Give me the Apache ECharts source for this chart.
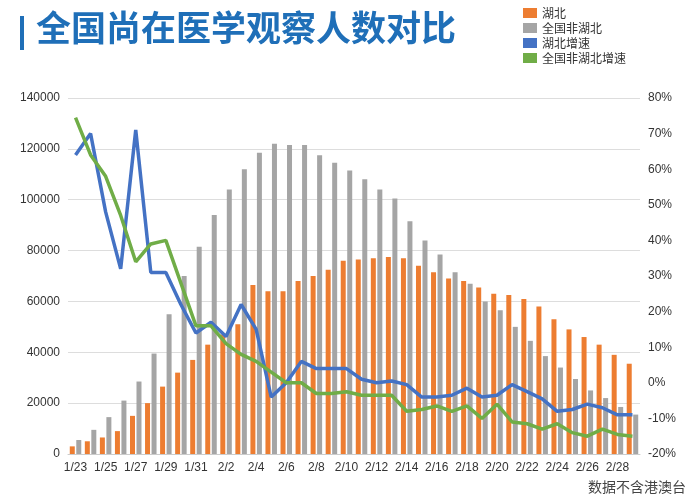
<!DOCTYPE html><html><head><meta charset="utf-8"><script src="https://cdn.jsdelivr.net/npm/echarts@6/dist/echarts.min.js"></script><style>body{margin:0}#c{width:700px;height:500px}</style></head><body><div id="c"></div><script>
const categories=["1/23","1/24","1/25","1/26","1/27","1/28","1/29","1/30","1/31","2/1","2/2","2/3","2/4","2/5","2/6","2/7","2/8","2/9","2/10","2/11","2/12","2/13","2/14","2/15","2/16","2/17","2/18","2/19","2/20","2/21","2/22","2/23","2/24","2/25","2/26","2/27","2/28","2/29"];
const hubei=[3000,5000,6500,9000,15000,20000,26500,32000,37000,43000,47000,51000,66500,64000,64000,68000,70000,72500,76000,76500,77000,77500,77000,74000,71500,69000,68000,65500,63000,62500,61000,58000,53000,49000,46000,43000,39000,35500];
const nonHubei=[5500,9500,14500,21000,28500,39500,55000,70000,81500,94000,104000,112000,118500,122000,121500,121500,117500,114500,111500,108000,104000,100500,91500,84000,78500,71500,67000,60000,56500,50000,44500,38500,34000,29500,25000,22000,18500,15500];
const hubeiGrowth=[64,70,48,32,71,31,31,22,14,17,13,22,15,-4,0,6,4,4,4,1,0,0.5,-0.5,-4,-4,-3.5,-1.5,-4,-3.5,-0.5,-2.5,-4.5,-8,-7.5,-6,-7,-9,-9];
const nonHubeiGrowth=[74.5,64,58,47,34,39,40,28,16,16,11,8,6,3,0,0,-3,-3,-2.5,-3.5,-3.5,-3.5,-8,-7.5,-6.5,-8,-6.5,-10,-6,-11,-11.5,-13,-11.5,-14,-15,-13,-14.5,-15];
const ch=echarts.init(document.getElementById('c'));
const lbl={color:'#333',fontSize:12,fontFamily:'Liberation Sans'};
ch.setOption({
animation:false,
graphic:[{type:'rect',left:20,top:16,shape:{width:4,height:34},style:{fill:'#1f6fb8'}},
{type:'text',left:36,top:10,style:{text:'全国尚在医学观察人数对比',font:'bold 35px "Noto Sans CJK SC"',fill:'#1f6fb8'}},
{type:'text',right:14,bottom:6,style:{text:'数据不含港澳台',font:'14px "Noto Sans CJK SC"',fill:'#444'}}],
legend:{orient:'vertical',left:518,top:2,itemGap:3,itemWidth:14,itemHeight:10,textStyle:{fontSize:12,color:'#333',fontFamily:'Noto Sans CJK SC'},
data:[{name:'湖北',icon:'rect'},{name:'全国非湖北',icon:'rect'},{name:'湖北增速',icon:'rect'},{name:'全国非湖北增速',icon:'rect'}]},
grid:{left:68,right:60,top:98,bottom:46},
xAxis:{type:'category',data:categories,axisLabel:Object.assign({interval:1},lbl),axisTick:{interval:1},axisLine:{lineStyle:{color:'#ccc'}}},
yAxis:[{type:'value',min:0,max:140000,interval:20000,axisLabel:Object.assign({formatter:v=>String(v)},lbl),splitLine:{lineStyle:{color:'#ddd'}}},
{type:'value',min:-20,max:80,interval:10,axisLabel:Object.assign({formatter:'{value}%'},lbl),splitLine:{show:false}}],
series:[
{name:'湖北',type:'bar',data:hubei,itemStyle:{color:'#ed7d31'},barWidth:5,barGap:'30%'},
{name:'全国非湖北',type:'bar',data:nonHubei,itemStyle:{color:'#a5a5a5'},barWidth:5},
{name:'湖北增速',type:'line',yAxisIndex:1,data:hubeiGrowth,symbol:'none',lineStyle:{color:'#4472c4',width:3.5},itemStyle:{color:'#4472c4'}},
{name:'全国非湖北增速',type:'line',yAxisIndex:1,data:nonHubeiGrowth,symbol:'none',lineStyle:{color:'#70ad47',width:3.5},itemStyle:{color:'#70ad47'}}
]});
</script></body></html>
